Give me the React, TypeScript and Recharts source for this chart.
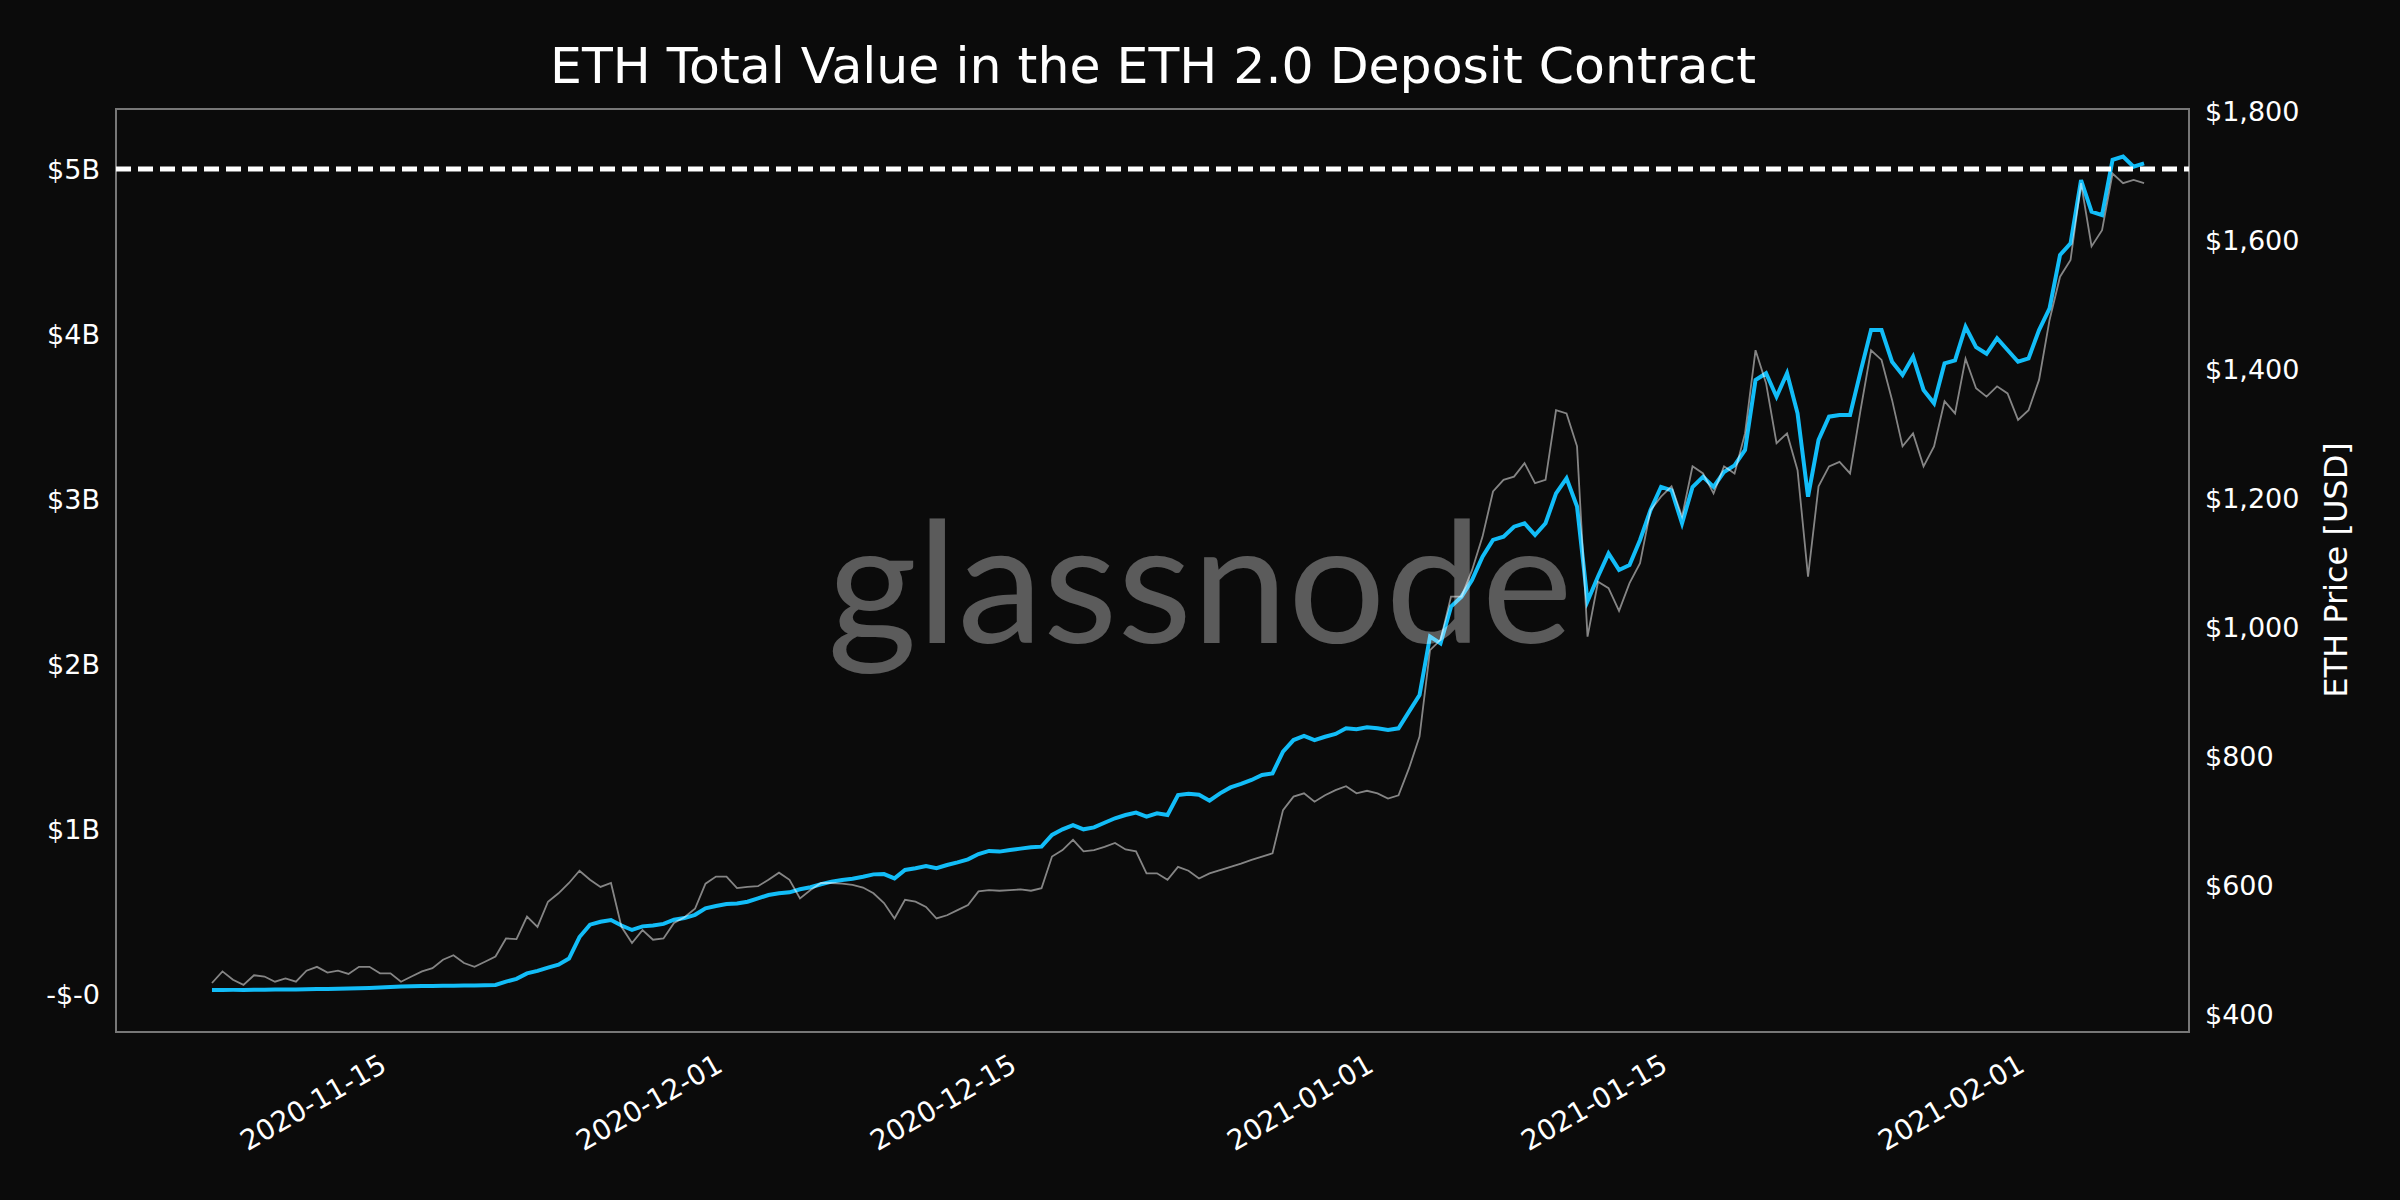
import React from "react";
import {
  LineChart,
  Line,
  XAxis,
  YAxis,
  ReferenceLine,
  ReferenceArea,
} from "recharts";

// samples every 12 hours, starting 2020-11-07 00:00 UTC
const START_UTC = Date.UTC(2020, 10, 7);
const STEP_MS = 12 * 3600 * 1000;
const DAY_MS = 24 * 3600 * 1000;

// total value in the deposit contract, billions of USD
const depositValueBn = [
  0.024, 0.024, 0.025, 0.025, 0.026, 0.026, 0.027, 0.027, 0.028, 0.029,
  0.030, 0.031, 0.032, 0.033, 0.035, 0.037, 0.040, 0.043, 0.046, 0.047,
  0.048, 0.049, 0.050, 0.050, 0.051, 0.052, 0.053, 0.055, 0.075, 0.092,
  0.125, 0.140, 0.160, 0.178, 0.215, 0.345, 0.420, 0.438, 0.448, 0.415,
  0.388, 0.410, 0.415, 0.425, 0.450, 0.460, 0.480, 0.519, 0.533, 0.545,
  0.549, 0.559, 0.580, 0.600, 0.610, 0.616, 0.635, 0.647, 0.665, 0.681,
  0.691, 0.699, 0.711, 0.725, 0.727, 0.701, 0.752, 0.762, 0.776, 0.762,
  0.782, 0.798, 0.816, 0.848, 0.867, 0.863, 0.873, 0.881, 0.889, 0.893,
  0.964, 0.998, 1.024, 0.998, 1.010, 1.038, 1.065, 1.085, 1.099, 1.075,
  1.095, 1.085, 1.206, 1.213, 1.208, 1.172, 1.216, 1.252, 1.273, 1.297,
  1.327, 1.337, 1.469, 1.539, 1.564, 1.539, 1.559, 1.576, 1.610, 1.604,
  1.616, 1.610, 1.600, 1.610, 1.711, 1.812, 2.166, 2.125, 2.348, 2.408,
  2.509, 2.651, 2.752, 2.772, 2.832, 2.853, 2.782, 2.853, 3.034, 3.125,
  2.954, 2.380, 2.530, 2.670, 2.570, 2.600, 2.752, 2.933, 3.073, 3.053,
  2.852, 3.073, 3.134, 3.073, 3.164, 3.204, 3.297, 3.721, 3.762, 3.620,
  3.762, 3.519, 3.014, 3.358, 3.499, 3.509, 3.509, 3.772, 4.024, 4.024,
  3.832, 3.752, 3.863, 3.661, 3.580, 3.822, 3.840, 4.044, 3.920, 3.880,
  3.974, 3.903, 3.832, 3.852, 4.024, 4.155, 4.479, 4.550, 4.933, 4.742,
  4.721, 5.055, 5.075, 5.014, 5.034,
];

// ETH price, USD
const ethPriceUsd = [
  448, 466, 453, 445, 460, 458, 450, 455, 450, 467,
  473, 464, 467, 462, 473, 473, 463, 463, 450, 458,
  466, 471, 484, 491, 479, 473, 481, 489, 517, 516,
  551, 535, 574, 587, 603, 622, 608, 597, 603, 535,
  510, 530, 515, 517, 541, 550, 563, 602, 613, 613,
  595, 597, 598, 608, 619, 608, 579, 592, 603, 603,
  602, 600, 596, 587, 572, 548, 577, 574, 566, 548,
  553, 561, 569, 590, 592, 591, 592, 593, 591, 595,
  644, 654, 670, 652, 654, 659, 665, 655, 652, 618,
  618, 608, 628, 622, 610, 618, 623, 628, 633, 639,
  644, 649, 716, 737, 742, 729, 739, 747, 753, 742,
  746, 742, 734, 739, 781, 830, 964, 980, 1047, 1047,
  1088, 1140, 1210, 1228, 1233, 1254, 1223, 1228, 1336, 1331,
  1280, 985, 1070, 1060, 1025, 1068, 1099, 1181, 1202, 1218,
  1171, 1249, 1238, 1207, 1249, 1238, 1300, 1429, 1378, 1285,
  1300, 1243, 1078, 1218, 1249, 1256, 1238, 1336, 1429, 1414,
  1352, 1280, 1300, 1249, 1280, 1350, 1331, 1416, 1370, 1357,
  1373, 1362, 1321, 1336, 1383, 1476, 1543, 1569, 1688, 1590,
  1615, 1703, 1688, 1693, 1688,
];

const xTickDates = ["2020-11-15", "2020-12-01", "2020-12-15", "2021-01-01", "2021-01-15", "2021-02-01"];
const leftTicks = [0, 1e9, 2e9, 3e9, 4e9, 5e9];
const leftTickLabels = ["-$-0", "$1B", "$2B", "$3B", "$4B", "$5B"];
const rightTicks = [400, 600, 800, 1000, 1200, 1400, 1600, 1800];

const FONT = "DejaVu Sans";
const NOV15 = Date.UTC(2020, 10, 15);
const X_DOMAIN = [NOV15 - 12.57 * DAY_MS, NOV15 + 86.14 * DAY_MS];
const LEFT_DOMAIN = [-0.2303e9, 5.3636e9];
const RIGHT_DOMAIN = [372, 1803];

const data = depositValueBn.map((v, i) => ({
  t: START_UTC + i * STEP_MS,
  value: v * 1e9,
  price: ethPriceUsd[i],
}));

const xTicks = xTickDates.map((d) => Date.parse(d + "T00:00:00Z"));

const fmtDate = (t: number) => new Date(t).toISOString().slice(0, 10);

// rotated date label, its top-right corner sits just under the tick
const DateTick = (props: any) => {
  const { x, payload } = props;
  const tx = x - 2;
  const ty = 1052;
  return (
    <text
      x={tx}
      y={ty}
      textAnchor="end"
      dominantBaseline="hanging"
      transform={`rotate(-30 ${tx} ${ty})`}
      fill="#ffffff"
      fontSize={28}
      fontFamily={FONT}
    >
      {fmtDate(payload.value)}
    </text>
  );
};

export default function App() {
  return (
    <div
      style={{
        position: "absolute",
        left: 0,
        top: 0,
        width: 2400,
        height: 1200,
        background: "#0b0b0b",
        fontFamily: FONT,
      }}
    >
      <LineChart
        width={2400}
        height={1200}
        data={data}
        margin={{ top: 109, right: 61, left: 16, bottom: 48 }}
      >
        <XAxis
          dataKey="t"
          type="number"
          domain={X_DOMAIN}
          ticks={xTicks}
          allowDataOverflow
          height={120}
          tickLine={false}
          axisLine={false}
          tickSize={0}
          tickMargin={18}
          tick={<DateTick />}
        />
        <YAxis
          yAxisId="left"
          domain={LEFT_DOMAIN}
          ticks={leftTicks}
          allowDataOverflow
          width={100}
          tickLine={false}
          axisLine={false}
          tickSize={0}
          tickMargin={16}
          tickFormatter={(v: number) => leftTickLabels[leftTicks.indexOf(v)] ?? ""}
          tick={{ fill: "#ffffff", fontSize: 27, fontFamily: FONT }}
        />
        <YAxis
          yAxisId="right"
          orientation="right"
          domain={RIGHT_DOMAIN}
          ticks={rightTicks}
          allowDataOverflow
          width={150}
          tickLine={false}
          axisLine={false}
          tickSize={0}
          tickMargin={16}
          tickFormatter={(v: number) => "$" + v.toLocaleString("en-US")}
          tick={{ fill: "#ffffff", fontSize: 27, fontFamily: FONT }}
        />
        <ReferenceArea
          yAxisId="left"
          x1={X_DOMAIN[0]}
          x2={X_DOMAIN[1]}
          y1={LEFT_DOMAIN[0]}
          y2={LEFT_DOMAIN[1]}
          fill="none"
          fillOpacity={0}
          stroke="#777777"
          strokeWidth={2}
        />
        <Line
          yAxisId="left"
          dataKey="value"
          type="linear"
          stroke="#12bdf8"
          strokeWidth={4}
          dot={false}
          isAnimationActive={false}
        />
        <Line
          yAxisId="right"
          dataKey="price"
          type="linear"
          stroke="#ffffff"
          strokeOpacity={0.5}
          strokeWidth={1.8}
          dot={false}
          isAnimationActive={false}
        />
        <ReferenceLine
          yAxisId="left"
          y={5e9}
          stroke="#ffffff"
          strokeWidth={5}
          strokeDasharray="15 7"
        />
      </LineChart>
      <svg
        width={2400}
        height={1200}
        style={{ position: "absolute", left: 0, top: 0, pointerEvents: "none" }}
      >
        <text
          x={1153}
          y={83}
          textAnchor="middle"
          fill="#ffffff"
          fontSize={50.5}
          fontFamily={FONT}
        >
          ETH Total Value in the ETH 2.0 Deposit Contract
        </text>
        <text
          x={2336}
          y={570}
          textAnchor="middle"
          dominantBaseline="central"
          transform="rotate(-90 2336 570)"
          fill="#ffffff"
          fontSize={32}
          fontFamily={FONT}
        >
          ETH Price [USD]
        </text>
        <text
          x={1200}
          y={643}
          textAnchor="middle"
          textLength={745}
          lengthAdjust="spacingAndGlyphs"
          fill="#ffffff"
          fillOpacity={0.33}
          fontSize={168}
          fontFamily="Lato"
        >
          glassnode
        </text>
      </svg>
    </div>
  );
}
